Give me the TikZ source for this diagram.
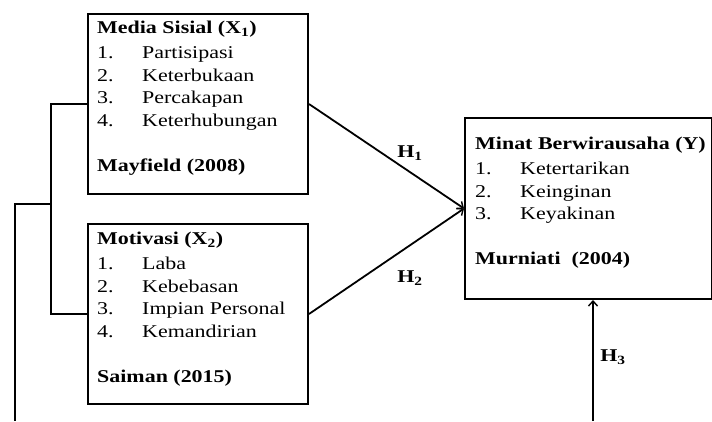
\documentclass[tikz,border=0pt]{standalone}
\usepackage{fontspec}
\setmainfont{Liberation Serif}[FakeStretch=1.22]
\usetikzlibrary{arrows.meta}
\newcommand{\itm}[2]{\makebox[45pt][l]{#1}#2}

\begin{document}
\begin{tikzpicture}[x=1pt, y=-1pt,
    box/.style={draw, line width=2pt, rectangle, inner sep=0pt, anchor=north west},
    txt/.style={inner sep=0pt, anchor=north west, align=left, font=\fontsize{18}{22.5}\selectfont},
    lbl/.style={inner sep=0pt, font=\fontsize{18}{22.5}\selectfont\bfseries},
    arr/.style={line width=1.8pt, -{Straight Barb[length=5pt, width=9pt, line width=1.4pt]}}]
  \useasboundingbox (0,0) rectangle (712,421);
  \node[box, minimum width=220pt, minimum height=180pt] (media) at (87,13) {};
  \node[txt] (mediatxt) at (97,21) {\textbf{Media Sisial (X\textsubscript{1})}\\[2.5pt]
    \itm{1.}{Partisipasi}\\ \itm{2.}{Keterbukaan}\\ \itm{3.}{Percakapan}\\ \itm{4.}{Keterhubungan}\\[22.5pt]
    \textbf{Mayfield (2008)}};
  \node[box, minimum width=220pt, minimum height=180pt] (motiv) at (87,223) {};
  \node[txt] (motivtxt) at (97,232) {\textbf{Motivasi (X\textsubscript{2})}\\[2.5pt]
    \itm{1.}{Laba}\\ \itm{2.}{Kebebasan}\\ \itm{3.}{Impian Personal}\\ \itm{4.}{Kemandirian}\\[22.5pt]
    \textbf{Saiman (2015)}};
  \node[box, minimum width=247pt, minimum height=181pt] (minat) at (464,117) {};
  \node[txt] (minattxt) at (475,137) {\textbf{Minat Berwirausaha (Y)}\\[2.5pt]
    \itm{1.}{Ketertarikan}\\ \itm{2.}{Keinginan}\\ \itm{3.}{Keyakinan}\\[22.5pt]
    \textbf{Murniati\ \ (2004)}};
  \coordinate (brk) at (51,204);
  \coordinate (brkend) at (15,421);
  \coordinate (hthree) at (593,421);
  \draw[line width=2pt] (media.west) -- ++(-36,0) |- (motiv.west);
  \draw[line width=2pt] (brk) -| (brkend);
  \draw[arr] (media.east) -- (minat.west);
  \draw[arr] (motiv.east) -- (minat.west);
  \draw[arr] (hthree) -- (minat.south -| hthree);
  \node[lbl] (hone) at (410,153) {H\textsubscript{1}};
  \node[lbl] (htwo) at (410,278) {H\textsubscript{2}};
  \node[lbl] (hthr) at (613,357) {H\textsubscript{3}};
\end{tikzpicture}
\end{document}
